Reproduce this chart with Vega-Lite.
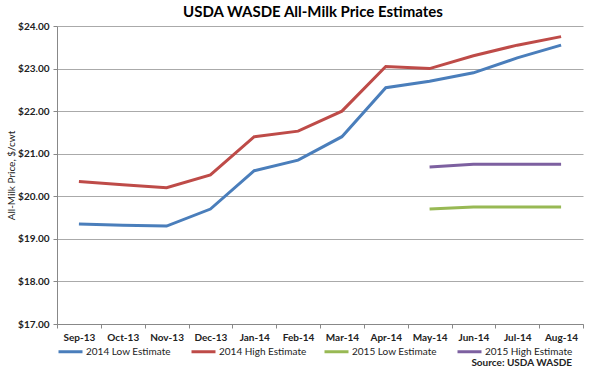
{
  "$schema": "https://vega.github.io/schema/vega-lite/v6.json",
  "autosize": {"type": "none"},
  "width": 526,
  "height": 298,
  "padding": {"left": 57, "top": 26, "right": 17, "bottom": 47},
  "background": "white",
  "title": {
    "text": "USDA WASDE All-Milk Price Estimates",
    "font": "Lato",
    "fontSize": 15,
    "fontWeight": "bold",
    "color": "#000000",
    "anchor": "middle",
    "dx": -7,
    "offset": 1
  },
  "config": {
    "view": {"stroke": null},
    "font": "Lato"
  },
  "data": {
    "values": [
      {"month": "Sep-13", "series": "2014 Low Estimate", "price": 19.35},
      {"month": "Oct-13", "series": "2014 Low Estimate", "price": 19.32},
      {"month": "Nov-13", "series": "2014 Low Estimate", "price": 19.30},
      {"month": "Dec-13", "series": "2014 Low Estimate", "price": 19.70},
      {"month": "Jan-14", "series": "2014 Low Estimate", "price": 20.60},
      {"month": "Feb-14", "series": "2014 Low Estimate", "price": 20.85},
      {"month": "Mar-14", "series": "2014 Low Estimate", "price": 21.40},
      {"month": "Apr-14", "series": "2014 Low Estimate", "price": 22.55},
      {"month": "May-14", "series": "2014 Low Estimate", "price": 22.70},
      {"month": "Jun-14", "series": "2014 Low Estimate", "price": 22.90},
      {"month": "Jul-14", "series": "2014 Low Estimate", "price": 23.25},
      {"month": "Aug-14", "series": "2014 Low Estimate", "price": 23.55},
      {"month": "Sep-13", "series": "2014 High Estimate", "price": 20.35},
      {"month": "Oct-13", "series": "2014 High Estimate", "price": 20.27},
      {"month": "Nov-13", "series": "2014 High Estimate", "price": 20.20},
      {"month": "Dec-13", "series": "2014 High Estimate", "price": 20.50},
      {"month": "Jan-14", "series": "2014 High Estimate", "price": 21.40},
      {"month": "Feb-14", "series": "2014 High Estimate", "price": 21.53},
      {"month": "Mar-14", "series": "2014 High Estimate", "price": 22.00},
      {"month": "Apr-14", "series": "2014 High Estimate", "price": 23.05},
      {"month": "May-14", "series": "2014 High Estimate", "price": 23.00},
      {"month": "Jun-14", "series": "2014 High Estimate", "price": 23.30},
      {"month": "Jul-14", "series": "2014 High Estimate", "price": 23.55},
      {"month": "Aug-14", "series": "2014 High Estimate", "price": 23.75},
      {"month": "May-14", "series": "2015 Low Estimate", "price": 19.70},
      {"month": "Jun-14", "series": "2015 Low Estimate", "price": 19.75},
      {"month": "Jul-14", "series": "2015 Low Estimate", "price": 19.75},
      {"month": "Aug-14", "series": "2015 Low Estimate", "price": 19.75},
      {"month": "May-14", "series": "2015 High Estimate", "price": 20.69},
      {"month": "Jun-14", "series": "2015 High Estimate", "price": 20.75},
      {"month": "Jul-14", "series": "2015 High Estimate", "price": 20.75},
      {"month": "Aug-14", "series": "2015 High Estimate", "price": 20.75}
    ]
  },
  "mark": {"type": "line", "strokeWidth": 3},
  "encoding": {
    "x": {
      "field": "month",
      "type": "ordinal",
      "sort": ["Sep-13","Oct-13","Nov-13","Dec-13","Jan-14","Feb-14","Mar-14","Apr-14","May-14","Jun-14","Jul-14","Aug-14"],
      "scale": {"type": "band", "paddingInner": 0, "paddingOuter": 0},
      "bandPosition": 0.5,
      "axis": {
        "title": null,
        "labelAngle": 0,
        "labelFont": "Lato",
        "labelFontSize": 10,
        "labelFontWeight": "bold",
        "labelColor": "#222222",
        "labelPadding": 4,
        "tickBand": "extent",
        "tickSize": 4,
        "tickColor": "#888888",
        "domainColor": "#888888",
        "grid": false
      }
    },
    "y": {
      "field": "price",
      "type": "quantitative",
      "scale": {"domain": [17, 24], "nice": false, "zero": false},
      "axis": {
        "title": "All-Milk Price, $/cwt",
        "titleFont": "Lato",
        "titleFontSize": 10,
        "titleFontWeight": "normal",
        "titleColor": "#222222",
        "titlePadding": 1,
        "format": "$,.2f",
        "values": [17, 18, 19, 20, 21, 22, 23, 24],
        "labelFont": "Lato",
        "labelFontSize": 10,
        "labelFontWeight": "bold",
        "labelColor": "#222222",
        "labelPadding": 4,
        "tickSize": 4,
        "tickColor": "#888888",
        "domainColor": "#888888",
        "gridColor": "#AAAAAA",
        "gridWidth": 1
      }
    },
    "color": {
      "field": "series",
      "type": "nominal",
      "scale": {
        "domain": ["2014 Low Estimate", "2014 High Estimate", "2015 Low Estimate", "2015 High Estimate"],
        "range": ["#4A7EBB", "#BE4B48", "#98B954", "#7D60A0"]
      },
      "legend": {
        "orient": "bottom",
        "direction": "horizontal",
        "columns": 4,
        "gridAlign": "all",
        "title": "Source: USDA WASDE",
        "titleOrient": "bottom",
        "titleAnchor": "end",
        "titleFont": "Lato",
        "titleFontSize": 10,
        "titleFontWeight": "bold",
        "titleColor": "#222222",
        "titlePadding": 0,
        "symbolType": "stroke",
        "symbolStrokeWidth": 3,
        "symbolSize": 576,
        "labelFont": "Lato",
        "labelFontSize": 10,
        "labelColor": "#222222",
        "labelOffset": 2,
        "columnPadding": 11,
        "rowPadding": 0,
        "offset": -4,
        "padding": 0
      }
    }
  }
}
